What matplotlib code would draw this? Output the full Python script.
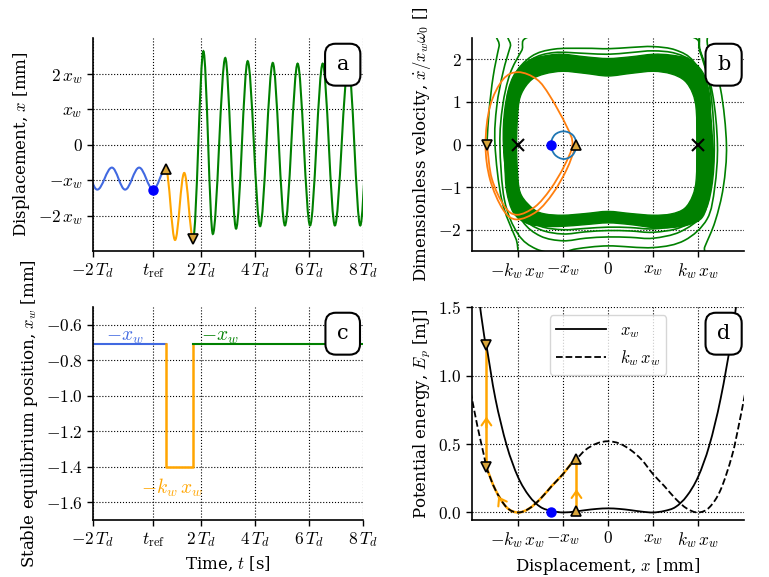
import numpy as np
import matplotlib
matplotlib.use("Agg")
import matplotlib.pyplot as plt
from matplotlib.path import Path
from matplotlib.patches import PathPatch
from matplotlib.lines import Line2D

plt.rcParams['font.family'] = ['DejaVu Serif']
plt.rcParams['mathtext.fontset'] = 'cm'

############### DATA ###############
# x in units of x_w, t in units of T_d

# panel a: extrema of the displacement signal
blue_t = [-2.32, -1.84, -1.30, -0.81, -0.29, 0.23, 0.70]
blue_x = [-0.65, -1.27, -0.65, -1.27, -0.65, -1.27, -0.69]
orange_t = [0.70, 1.04, 1.38, 1.71]
orange_x = [-0.69, -2.69, -0.80, -2.65]
green_t = [1.71, 2.09, 2.44, 2.90, 3.30, 3.73, 4.19, 4.66, 5.11, 5.58, 6.04, 6.51, 6.96, 7.46, 7.90, 8.32]
green_x = [-2.65, 2.63, -2.52, 2.44, -2.37, 2.35, -2.30, 2.30, -2.28, 2.28, -2.28, 2.28, -2.28, 2.28, -2.28, 2.28]
t_ref = 0.23

# panel b: phase portrait
circle_x = [-1.27, -1.18, -0.98, -0.78, -0.70, -0.78, -0.98, -1.18]
circle_v = [0.00, 0.23, 0.31, 0.22, 0.00, -0.24, -0.34, -0.24]
orb_x = [-0.70, -0.92, -1.22, -1.58, -2.03, -2.33, -2.62, -2.72,
         -2.62, -2.33, -1.99, -1.58, -1.29, -0.92, -0.79,
         -0.98, -1.28, -1.62, -2.02, -2.30, -2.58, -2.69]
orb_v = [0.00, -0.59, -1.14, -1.57, -1.76, -1.53, -0.82, 0.00,
         0.90, 1.53, 1.70, 1.53, 1.14, 0.43, 0.00,
         -0.52, -1.05, -1.46, -1.65, -1.45, -0.80, 0.00]
trans_x = [-2.69, -2.64, -2.55, -2.42, -2.30, 0.0, 2.00, 2.22, 2.50, 2.63,
           2.56, 2.38, 2.15, 2.00, 0.0, -1.75, -2.05, -2.36, -2.51,
           -2.47, -2.33, -2.17, -2.05, 0.0, 1.82, 2.05, 2.32, 2.43,
           2.37, 2.20, 1.70, 1.00, 0.00, -0.70, -1.10, -1.60, -2.00, -2.30, -2.40,
           -2.34, -2.18, -1.92, -1.70, 0.0, 1.80, 2.05, 2.28, 2.36,
           2.30, 2.10, 1.60, 1.00, 0.50, 0.00, -0.50, -1.00, -1.50, -1.90, -2.20, -2.32,
           -2.28, -2.10, -1.70, -1.20, -0.50, 0.00, 0.50, 1.00, 1.50, 1.90, 2.20, 2.32,
           2.28, 2.10, 1.60, 1.00, 0.50, 0.00, -0.50, -1.00, -1.50, -1.90, -2.20, -2.30,
           -2.26, -2.05, -1.70, -1.20, -0.50, 0.00, 0.50, 1.00, 1.50, 1.90, 2.20, 2.30,
           2.27, 2.10, 1.60, 1.00, 0.50, 0.00, -0.50, -1.00, -1.50, -1.90, -2.20, -2.29]
trans_v = [0.00, 0.80, 1.60, 2.30, 2.80, 3.40, 2.90, 2.30, 1.30, 0.00,
           -1.00, -1.80, -2.40, -2.80, -3.30, -2.85, -2.20, -1.30, 0.00,
           0.90, 1.70, 2.30, 2.70, 3.10, 2.70, 2.20, 1.20, 0.00,
           -1.00, -1.75, -2.25, -2.42, -2.38, -2.45, -2.55, -2.45, -2.10, -1.30, 0.00,
           0.90, 1.65, 2.20, 2.55, 2.75, 2.55, 2.15, 1.20, 0.00,
           -1.00, -1.65, -2.05, -2.20, -2.18, -2.17, -2.20, -2.26, -2.15, -1.80, -1.10, 0.00,
           0.90, 1.60, 2.07, 2.24, 2.26, 2.25, 2.28, 2.30, 2.22, 1.95, 1.25, 0.00,
           -0.90, -1.60, -1.95, -2.06, -2.03, -2.02, -2.05, -2.10, -2.00, -1.70, -1.00, 0.00,
           0.90, 1.60, 2.00, 2.16, 2.14, 2.12, 2.16, 2.20, 2.14, 1.90, 1.20, 0.00,
           -0.90, -1.55, -1.88, -1.98, -1.95, -1.94, -1.97, -2.00, -1.92, -1.65, -1.00, 0.00]
band_out_x = [-2.30, -2.27, -2.20, -2.00, -1.70, -1.30, -1.00, -0.50, 0.00, 0.50, 1.00, 1.40,
              1.80, 2.10, 2.25, 2.28, 2.28, 2.28, 2.25, 2.10, 1.80, 1.40, 1.00, 0.50,
              0.00, -0.50, -1.00, -1.40, -1.80, -2.10, -2.25, -2.29]
band_out_v = [0.00, 0.80, 1.30, 1.75, 2.00, 2.10, 2.12, 2.06, 2.02, 2.06, 2.12, 2.10,
              2.00, 1.70, 1.20, 0.60, 0.00, -0.60, -1.20, -1.70, -1.88, -1.95, -1.95, -1.88,
              -1.84, -1.88, -1.92, -1.92, -1.85, -1.60, -1.10, -0.50]
band_in_x = [-2.03, -2.00, -1.92, -1.70, -1.40, -1.00, -0.50, 0.00, 0.50, 1.00, 1.40, 1.70,
             1.88, 1.96, 1.97, 1.96, 1.88, 1.70, 1.40, 1.00, 0.50, 0.00, -0.50, -1.00,
             -1.40, -1.65, -1.92, -2.00]
band_in_v = [0.00, 0.80, 1.20, 1.52, 1.66, 1.72, 1.67, 1.61, 1.67, 1.72, 1.66, 1.50,
             1.20, 0.80, 0.00, -0.80, -1.20, -1.50, -1.63, -1.66, -1.62, -1.57, -1.62, -1.66,
             -1.63, -1.52, -1.20, -0.80]

# panel c: stable equilibrium position [mm]
c_blue_t = [-2.0, 0.70]
c_blue_y = [-0.71, -0.71]
c_orange_t = [0.70, 0.70, 1.71, 1.71]
c_orange_y = [-0.71, -1.40, -1.40, -0.71]
c_green_t = [1.71, 8.0]
c_green_y = [-0.71, -0.71]

# panel d: potential energy [mJ]
ep_x = [-3.05, -2.90, -2.75, -2.70, -2.50, -2.25, -2.00, -1.75, -1.50, -1.25, -1.00, -0.75,
        -0.70, -0.50, -0.25, 0.00, 0.25, 0.50, 0.75, 1.00, 1.25, 1.50, 1.75, 2.00, 2.25,
        2.50, 2.75, 2.90, 3.05]
ep_xw = [2.07, 1.65, 1.29, 1.22, 0.83, 0.49, 0.26, 0.12, 0.04, 0.011, 0.0, 0.006,
         0.008, 0.017, 0.026, 0.030, 0.026, 0.017, 0.006, 0.0, 0.011, 0.04, 0.12, 0.26, 0.49,
         0.83, 1.29, 1.65, 2.07]
ep_kw = [0.88, 0.63, 0.41, 0.33, 0.165, 0.037, 0.0, 0.029, 0.10, 0.193, 0.28, 0.384,
         0.39, 0.457, 0.504, 0.52, 0.504, 0.457, 0.384, 0.28, 0.193, 0.10, 0.029, 0.0, 0.037,
         0.165, 0.41, 0.63, 0.88]

############### FUNCTION DEFINITION ###############

def osc_path(ts, ys, k):
	# half-cycle curves between extrema (flat at each extremum)
	verts = [(ts[0], ys[0])]
	codes = [Path.MOVETO]
	for i in range(len(ts) - 1):
		dt = ts[i + 1] - ts[i]
		verts += [(ts[i] + k * dt, ys[i]), (ts[i + 1] - k * dt, ys[i + 1]), (ts[i + 1], ys[i + 1])]
		codes += [Path.CURVE4] * 3
	return Path(verts, codes)

def smooth_path(xs, ys, closed=False):
	# catmull-rom through the read points
	p = np.column_stack([xs, ys]).astype(float)
	if closed:
		pts = np.vstack([p[-1], p, p[0], p[1]])
	else:
		pts = np.vstack([2 * p[0] - p[1], p, 2 * p[-1] - p[-2]])
	verts = [pts[1]]
	codes = [Path.MOVETO]
	for i in range(1, len(pts) - 2):
		p0, p1, p2, p3 = pts[i - 1], pts[i], pts[i + 1], pts[i + 2]
		verts += [p1 + (p2 - p0) / 6.0, p2 - (p3 - p1) / 6.0, p2]
		codes += [Path.CURVE4] * 3
	return Path(verts, codes)

def draw(ax, path, **kw):
	ax.add_patch(PathPatch(path, fill=False, **kw))

def style(ax):
	for s in ["top", "right"]:
		ax.spines[s].set_visible(False)
	for s in ["left", "bottom"]:
		ax.spines[s].set_linewidth(1.2)
	ax.grid(True, color="k", ls=":", lw=0.8)
	ax.set_axisbelow(True)
	ax.tick_params(direction="out", length=4, width=1.0, labelsize=12.5)

def panel_label(ax, s):
	ax.text(0.925, 0.875, s, transform=ax.transAxes, ha="center", va="center",
		fontsize=15, zorder=10,
		bbox=dict(boxstyle="round,pad=0.55,rounding_size=0.5", fc="white", ec="k", lw=1.5))

tri_face = "#d9a53a"
lab_size = 12
t_ticks = [-2, t_ref, 2, 4, 6, 8]
t_labels = [r"$-2\,T_d$", r"$t_{\rm ref}$", r"$2\,T_d$", r"$4\,T_d$", r"$6\,T_d$", r"$8\,T_d$"]
x_ticks = [-2, -1, 0, 1, 2]
x_labels = [r"$-k_w\,x_w$", r"$-x_w$", r"$0$", r"$x_w$", r"$k_w\,x_w$"]

fig = plt.figure(figsize=(7.69, 5.77), dpi=100)
axa = fig.add_axes([0.1209, 0.565, 0.3511, 0.369])
axb = fig.add_axes([0.6138, 0.565, 0.3537, 0.369])
axc = fig.add_axes([0.1209, 0.0988, 0.3511, 0.369])
axd = fig.add_axes([0.6138, 0.0988, 0.3537, 0.369])

# panel a
style(axa)
draw(axa, osc_path(blue_t, blue_x, 0.36), ec="royalblue", lw=1.5)
draw(axa, osc_path(orange_t, orange_x, 0.36), ec="orange", lw=1.5)
draw(axa, osc_path(green_t, green_x, 0.33), ec="green", lw=1.5)
axa.plot(blue_t[5], blue_x[5], "o", color="blue", ms=6.5, zorder=5)
axa.plot(orange_t[0], orange_x[0], "^", mfc=tri_face, mec="k", mew=1.2, ms=6.5, zorder=5)
axa.plot(orange_t[-1], orange_x[-1], "v", mfc=tri_face, mec="k", mew=1.2, ms=6.5, zorder=5)
axa.set_xlim(-2, 8)
axa.set_ylim(-3, 3)
axa.set_xticks(t_ticks, t_labels)
axa.set_yticks([-2, -1, 0, 1, 2], [r"$-2\,x_w$", r"$-x_w$", r"$0$", r"$x_w$", r"$2\,x_w$"])
axa.set_ylabel(r"Displacement, $x$ [mm]", fontsize=lab_size)
panel_label(axa, "a")

# panel b
style(axb)
band = Path.make_compound_path(smooth_path(band_out_x, band_out_v, closed=True),
	smooth_path(band_in_x[::-1], band_in_v[::-1], closed=True))
axb.add_patch(PathPatch(band, fc="green", ec="green", lw=1.0, zorder=2))
draw(axb, smooth_path(trans_x, trans_v), ec="green", lw=1.2, zorder=2)
draw(axb, smooth_path(orb_x, orb_v), ec="C1", lw=1.3, zorder=3)
draw(axb, smooth_path(circle_x, circle_v, closed=True), ec="C0", lw=1.3, zorder=3)
axb.plot([-2, 2], [0, 0], "x", color="k", ms=8, mew=1.5, ls="none", zorder=5)
axb.plot(circle_x[0], circle_v[0], "o", color="blue", ms=6.5, zorder=5)
axb.plot(orb_x[0], orb_v[0], "^", mfc=tri_face, mec="k", mew=1.2, ms=6.5, zorder=5)
axb.plot(orb_x[-1], orb_v[-1], "v", mfc=tri_face, mec="k", mew=1.2, ms=6.5, zorder=5)
axb.set_xlim(-3.02, 3.02)
axb.set_ylim(-2.5, 2.5)
axb.set_xticks(x_ticks, x_labels)
axb.set_yticks([-2, -1, 0, 1, 2], [r"$-2$", r"$-1$", r"$0$", r"$1$", r"$2$"])
axb.set_ylabel(r"Dimensionless velocity, $\dot{x}/x_w\omega_0$ []", fontsize=lab_size)
panel_label(axb, "b")

# panel c
style(axc)
axc.plot(c_blue_t, c_blue_y, color="royalblue", lw=1.5)
axc.plot(c_orange_t, c_orange_y, color="orange", lw=1.8)
axc.plot(c_green_t, c_green_y, color="green", lw=1.5)
axc.text(-0.83, -0.667, r"$-x_w$", color="royalblue", fontsize=14, ha="center", va="center")
axc.text(2.70, -0.667, r"$-x_w$", color="green", fontsize=14, ha="center", va="center")
axc.text(0.91, -1.52, r"$-k_w\,x_w$", color="orange", fontsize=14, ha="center", va="center")
axc.set_xlim(-2, 8)
axc.set_ylim(-1.7, -0.5)
axc.set_xticks(t_ticks, t_labels)
c_ticks = [-0.6, -0.8, -1.0, -1.2, -1.4, -1.6]
axc.set_yticks(c_ticks, [r"$%.1f$" % v for v in c_ticks])
axc.set_xlabel(r"Time, $t$ [s]", fontsize=lab_size)
axc.set_ylabel(r"Stable equilibrium position, $x_w$ [mm]", fontsize=lab_size)
panel_label(axc, "c")

# panel d
style(axd)
ep_x = np.array(ep_x)
seg = (ep_x >= -2.70) & (ep_x <= -0.70)
draw(axd, smooth_path(ep_x[seg], np.array(ep_kw)[seg]), ec="orange", lw=1.8, zorder=2)
draw(axd, smooth_path(ep_x, ep_xw), ec="k", lw=1.3, zorder=3)
draw(axd, smooth_path(ep_x, ep_kw), ec="k", lw=1.3, ls="--", zorder=3)
axd.plot([-2.70, -2.70], [ep_kw[3], ep_xw[3]], color="orange", lw=1.8, zorder=2)
axd.plot([-0.70, -0.70], [ep_xw[12], ep_kw[12]], color="orange", lw=1.8, zorder=2)
arrow = dict(arrowstyle="->,head_length=0.5,head_width=0.35", color="orange", lw=1.5)
axd.annotate("", xy=(-2.70, 0.72), xytext=(-2.70, 0.60), arrowprops=arrow, zorder=4)
axd.annotate("", xy=(-0.70, 0.19), xytext=(-0.70, 0.10), arrowprops=arrow, zorder=4)
axd.annotate("", xy=(-2.47, 0.135), xytext=(-2.40, 0.095), arrowprops=arrow, zorder=4)
axd.plot(-1.27, 0.002, "o", color="blue", ms=6.5, zorder=5)
axd.plot([-0.70, -0.70], [ep_xw[12], ep_kw[12]], "^", mfc=tri_face, mec="k", mew=1.2, ms=6.5, ls="none", zorder=5)
axd.plot([-2.70, -2.70], [ep_xw[3], ep_kw[3]], "v", mfc=tri_face, mec="k", mew=1.2, ms=6.5, ls="none", zorder=5)
axd.set_xlim(-3.02, 3.02)
axd.set_ylim(-0.055, 1.5)
axd.set_xticks(x_ticks, x_labels)
axd.set_yticks([0, 0.5, 1.0, 1.5], [r"$0.0$", r"$0.5$", r"$1.0$", r"$1.5$"])
axd.set_xlabel(r"Displacement, $x$ [mm]", fontsize=lab_size)
axd.set_ylabel(r"Potential energy, $E_p$ [mJ]", fontsize=lab_size)
handles = [Line2D([], [], color="k", lw=1.3), Line2D([], [], color="k", lw=1.3, ls="--")]
axd.legend(handles, [r"$x_w$", r"$k_w\,x_w$"], loc="upper center", fontsize=12, handlelength=3)
panel_label(axd, "d")

fig.savefig("out.png", dpi=100)
